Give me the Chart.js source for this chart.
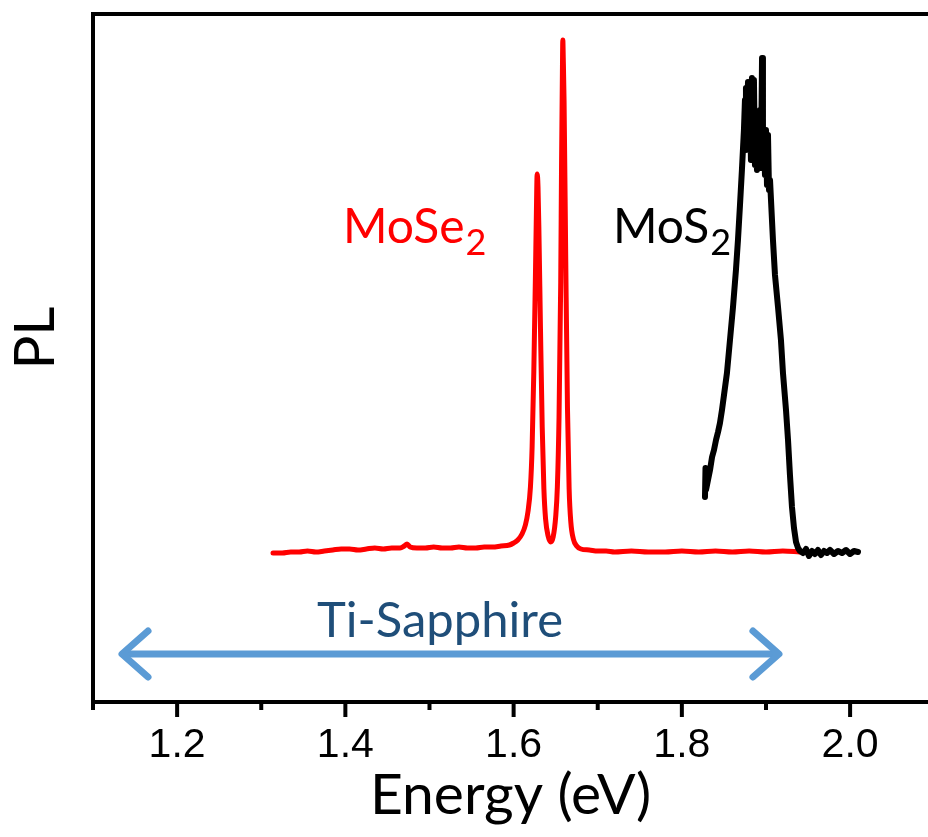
<!DOCTYPE html>
<html><head><meta charset="utf-8">
<script src="https://cdn.jsdelivr.net/npm/chart.js@4/dist/chart.umd.min.js"></script>
<style>html,body{margin:0;padding:0;background:#fff;overflow:hidden;}canvas{display:block;}</style>
</head><body>
<canvas id="c" width="928" height="837"></canvas>
<script>
// ---- data (energy in eV, PL in arbitrary units) ----
const mose2Energy = [1.314,1.325,1.335,1.345,1.355,1.365,1.375,1.385,1.395,1.405,1.415,1.425,1.435,1.445,1.455,1.465,1.470,1.4733,1.477,1.485,1.495,1.505,1.515,1.525,1.535,1.545,1.555,1.565,1.575,1.585,1.595,1.600,1.605,1.610,1.614,1.617,1.620,1.622,1.624,1.626,1.627,1.628,1.629,1.630,1.632,1.634,1.636,1.638,1.641,1.644,1.647,1.650,1.652,1.654,1.656,1.657,1.658,1.6585,1.659,1.660,1.662,1.664,1.666,1.668,1.671,1.675,1.680,1.690,1.700,1.710,1.720,1.740,1.760,1.780,1.800,1.820,1.840,1.860,1.880,1.900,1.920,1.940];
const mose2PL = [149,149,150,150,151,150,151,152,153,153,152,153,154,153,154,154,156,158,155,154,154,155,154,154,155,154,154,155,155,156,157,159,162,168,177,190,215,255,330,430,485,528,515,475,370,275,213,183,166,160,165,185,215,285,420,540,630,662,645,600,440,295,213,180,163,156,153,152,151,151,150,151,150,150,151,150,151,150,151,150,151,150];

const mos2Energy = [1.8275,1.8281,1.8287,1.8311,1.8335,1.8359,1.8382,1.8406,1.8430,1.8453,1.8477,1.8501,1.8536,1.8572,1.8608,1.8643,1.8667,1.8691,1.8714,1.8738,1.8750,1.8756,1.8762,1.8774,1.8786,1.8798,1.8810,1.8821,1.8833,1.8845,1.8857,1.8869,1.8881,1.8893,1.8905,1.8917,1.8929,1.8941,1.8953,1.8964,1.8976,1.8988,1.9000,1.9012,1.9024,1.9036,1.9048,1.9083,1.9107,1.9143,1.9178,1.9202,1.9238,1.9262,1.9285,1.9309,1.9333,1.9357,1.9381,1.9404,1.9440,1.9476,1.9511,1.9547,1.9583,1.9618,1.9654,1.9690,1.9725,1.9761,1.9809,1.9856,1.9904,1.9951,1.9999,2.0046,2.0094];
const mos2PL = [205,234,212,222,232,245,252,262,270,279,292,307,329,362,395,432,462,497,532,572,602,552,614,562,620,552,607,542,624,552,622,537,582,532,562,537,592,534,644,542,562,527,572,517,567,512,522,462,427,395,362,329,292,262,227,195,174,160,154,151,149,153,146,151,148,152,147,151,149,152,148,151,149,152,148,151,150];

const xTickValues = [1.1,1.2,1.3,1.4,1.5,1.6,1.7,1.8,1.9,2.0];
const xTickLabels = ['','1.2','','1.4','','1.6','','1.8','','2.0'];
const majorTicks = [1.2,1.4,1.6,1.8,2.0];

// ---- annotation placement (data coordinates) ----
const notes = {
  mose2: {x:1.3972, y:459, color:'#ff0000'},
  mos2:  {x:1.7181, y:459, color:'#000000'},
  laser: {x:1.5125, y:65, color:'#1F4E79'},
  arrow: {x1:1.1321, x2:1.9178, y:48, color:'#5B9BD5'},
  pl:    {y:364}
};

const TITLE_FONT = 'Lato';

const annotPlugin = {
  id:'annot',
  afterDatasetsDraw(chart){
    const {ctx, scales:{x,y}} = chart;
    ctx.save();
    function chem(n, main, sub){
      const px = x.getPixelForValue(n.x), py = y.getPixelForValue(n.y);
      ctx.fillStyle = n.color;
      ctx.textBaseline = 'alphabetic';
      ctx.textAlign = 'left';
      ctx.font = '48px ' + TITLE_FONT;
      ctx.fillText(main, px, py);
      const w = ctx.measureText(main).width;
      ctx.font = '36px ' + TITLE_FONT;
      ctx.fillText(sub, px + w + 1, py + 12);
    }
    chem(notes.mose2, 'MoSe', '2');
    chem(notes.mos2, 'MoS', '2');
    ctx.fillStyle = notes.laser.color;
    ctx.font = '49px ' + TITLE_FONT;
    ctx.textAlign = 'center';
    ctx.textBaseline = 'alphabetic';
    ctx.fillText('Ti-Sapphire', x.getPixelForValue(notes.laser.x), y.getPixelForValue(notes.laser.y));
    const a = notes.arrow;
    const x1 = x.getPixelForValue(a.x1), x2 = x.getPixelForValue(a.x2), ay = y.getPixelForValue(a.y);
    ctx.strokeStyle = a.color;
    ctx.lineWidth = 7;
    ctx.lineCap = 'round';
    ctx.lineJoin = 'round';
    ctx.beginPath();
    ctx.moveTo(x1 + 4, ay); ctx.lineTo(x2 - 4, ay);
    ctx.stroke();
    ctx.beginPath();
    ctx.moveTo(x1 + 28, ay - 23); ctx.lineTo(x1 + 2, ay); ctx.lineTo(x1 + 28, ay + 23);
    ctx.moveTo(x2 - 28, ay - 23); ctx.lineTo(x2 - 2, ay); ctx.lineTo(x2 - 28, ay + 23);
    ctx.stroke();
    ctx.restore();
  },
  afterDraw(chart){
    const {ctx, scales:{x,y}, chartArea} = chart;
    ctx.save();
    ctx.strokeStyle = '#000';
    ctx.lineWidth = 4;
    ctx.lineCap = 'butt';
    x.ticks.forEach(t => {
      const px = x.getPixelForValue(t.value);
      const major = majorTicks.some(m => Math.abs(m - t.value) < 1e-6);
      ctx.beginPath();
      ctx.moveTo(px, chartArea.bottom);
      ctx.lineTo(px, chartArea.bottom + (major ? 15 : 8));
      ctx.stroke();
    });
    // y-axis title
    ctx.fillStyle = '#000';
    ctx.font = '56px ' + TITLE_FONT;
    ctx.textAlign = 'center';
    ctx.textBaseline = 'alphabetic';
    ctx.translate(54, y.getPixelForValue(notes.pl.y));
    ctx.rotate(-Math.PI / 2);
    ctx.fillText('PL', 0, 0);
    ctx.restore();
  }
};

new Chart(document.getElementById('c'), {
  type:'line',
  data:{
    datasets:[
      {label:'MoS2', data: mos2Energy.map((e,i)=>({x:e, y:mos2PL[i]})), borderColor:'#000000', borderWidth:6, tension:0, pointRadius:0, borderJoinStyle:'round', borderCapStyle:'round', order:0},
      {label:'MoSe2', data: mose2Energy.map((e,i)=>({x:e, y:mose2PL[i]})), borderColor:'#ff0000', borderWidth:5, cubicInterpolationMode:'monotone', pointRadius:0, borderJoinStyle:'round', borderCapStyle:'round', order:1}
    ]
  },
  options:{
    responsive:false, animation:false, devicePixelRatio:1,
    layout:{padding:{left:93, right:0, top:14, bottom:0}},
    plugins:{legend:{display:false}, tooltip:{enabled:false}},
    scales:{
      x:{
        type:'linear', position:'bottom', min:1.1, max:2.0926,
        afterBuildTicks: a => { a.ticks = xTickValues.map(v => ({value:v})); },
        grid:{display:true, drawOnChartArea:false, drawTicks:false},
        border:{display:true, color:'#000', width:4},
        ticks:{padding:23, color:'#000', autoSkip:false, maxRotation:0,
               font:{family:'Liberation Sans', size:41, lineHeight:1.0},
               callback:(v,i) => xTickLabels[i]},
        title:{display:true, text:'Energy (eV)', color:'#000',
               font:{family:TITLE_FONT, size:57, lineHeight:1.0}, padding:{top:-22, bottom:13}}
      },
      xTop:{
        type:'linear', position:'top', min:1.1, max:2.0926,
        grid:{display:true, drawOnChartArea:false, drawTicks:false},
        border:{display:true, color:'#000', width:4},
        ticks:{display:false}
      },
      y:{
        type:'linear', position:'left', min:0, max:688,
        grid:{display:true, drawOnChartArea:false, drawTicks:false},
        border:{display:true, color:'#000', width:4},
        ticks:{display:false},
        title:{display:false}
      }
    }
  },
  plugins:[annotPlugin]
});
</script>
</body></html>
